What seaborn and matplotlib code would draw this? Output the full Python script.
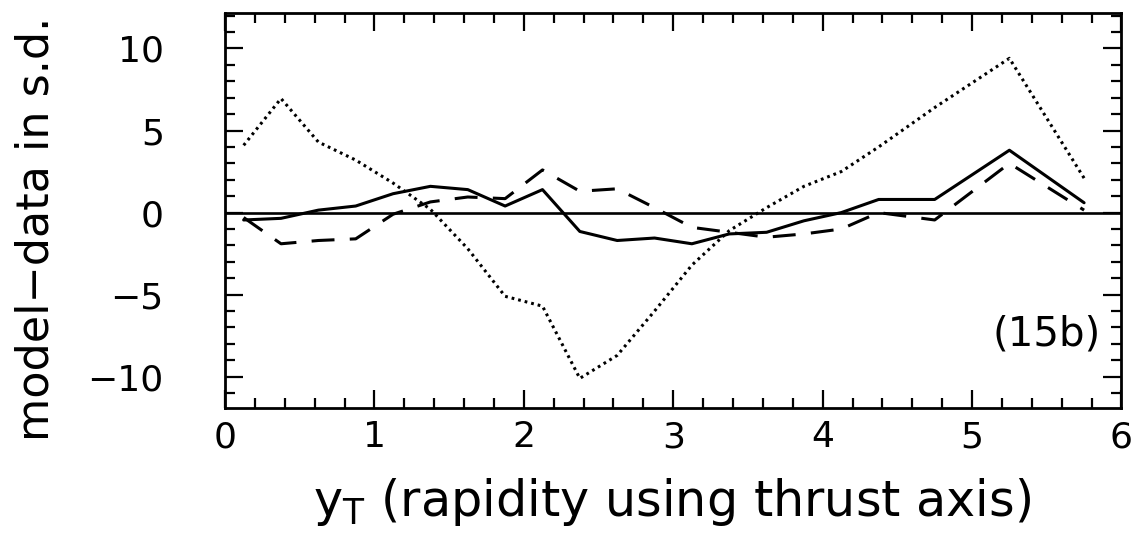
import matplotlib
matplotlib.use("Agg")
import matplotlib.pyplot as plt
from matplotlib.ticker import MultipleLocator
import seaborn as sns
import pandas as pd

# Datos (15b)
y_rap = [0.125, 0.375, 0.625, 0.875, 1.125, 1.375, 1.625, 1.875, 2.125, 2.375,
         2.625, 2.875, 3.125, 3.375, 3.625, 3.875, 4.125, 4.375, 4.75, 5.25, 5.75]

solid = [-0.45, -0.35, 0.15, 0.4, 1.15, 1.6, 1.4, 0.4, 1.4, -1.15,
         -1.7, -1.55, -1.9, -1.3, -1.2, -0.5, 0.0, 0.8, 0.8, 3.8, 0.6]

dashed = [-0.3, -1.9, -1.7, -1.6, -0.1, 0.65, 0.95, 0.85, 2.6, 1.3,
          1.45, 0.3, -0.9, -1.2, -1.5, -1.3, -1.0, 0.0, -0.45, 3.0, 0.15]

dotted = [4.1, 6.95, 4.3, 3.2, 1.8, 0.2, -2.2, -5.1, -5.7, -10.1,
          -8.7, -6.0, -3.2, -1.1, 0.3, 1.6, 2.5, 4.0, 6.4, 9.4, 2.1]

df = pd.DataFrame({"y": y_rap, "solid": solid, "dashed": dashed, "dotted": dotted})

sns.set_style("ticks")
plt.rcParams["font.family"] = ["DejaVu Sans"]
plt.rcParams["text.color"] = "black"
plt.rcParams["axes.labelcolor"] = "black"
plt.rcParams["xtick.color"] = "black"
plt.rcParams["ytick.color"] = "black"

fig = plt.figure(figsize=(11.42, 5.49), dpi=100)
ax = fig.add_axes([0.197, 0.257, 0.785, 0.719])

sns.lineplot(data=df, x="y", y="solid", color="black", linewidth=2.2, ax=ax)
sns.lineplot(data=df, x="y", y="dashed", color="black", linewidth=2.2,
             linestyle=(0, (7.5, 5)), ax=ax)
sns.lineplot(data=df, x="y", y="dotted", color="black", linewidth=2.2,
             linestyle=(0, (0.9, 1.3)), ax=ax)
ax.axhline(0, color="black", linewidth=1.9)

ax.set_xlim(0, 6)
ax.set_ylim(-11.9, 12.15)
ax.xaxis.set_major_locator(MultipleLocator(1))
ax.xaxis.set_minor_locator(MultipleLocator(0.2))
ax.yaxis.set_major_locator(MultipleLocator(5))
ax.yaxis.set_minor_locator(MultipleLocator(1))

ax.tick_params(which="both", direction="in", top=True, right=True, width=1.6)
ax.tick_params(which="major", length=13)
ax.tick_params(which="minor", length=7)
ax.tick_params(axis="x", which="major", labelsize=26, pad=9)
ax.tick_params(axis="y", which="major", labelsize=26, pad=44)
for s in ax.spines.values():
    s.set_linewidth(2)
    s.set_color("black")

ax.set_xlabel(r"y$_\mathregular{T}$ (rapidity using thrust axis)", fontsize=35.5)
ax.set_ylabel("model\u2212data in s.d.", fontsize=32)
ax.xaxis.set_label_coords(0.4985, -0.172)
ax.yaxis.set_label_coords(-0.187, 0.453)
ax.text(5.86, -7.4, "(15b)", fontsize=29, ha="right", va="center")

# plt.savefig local
plt.savefig("out.png", dpi=100)
